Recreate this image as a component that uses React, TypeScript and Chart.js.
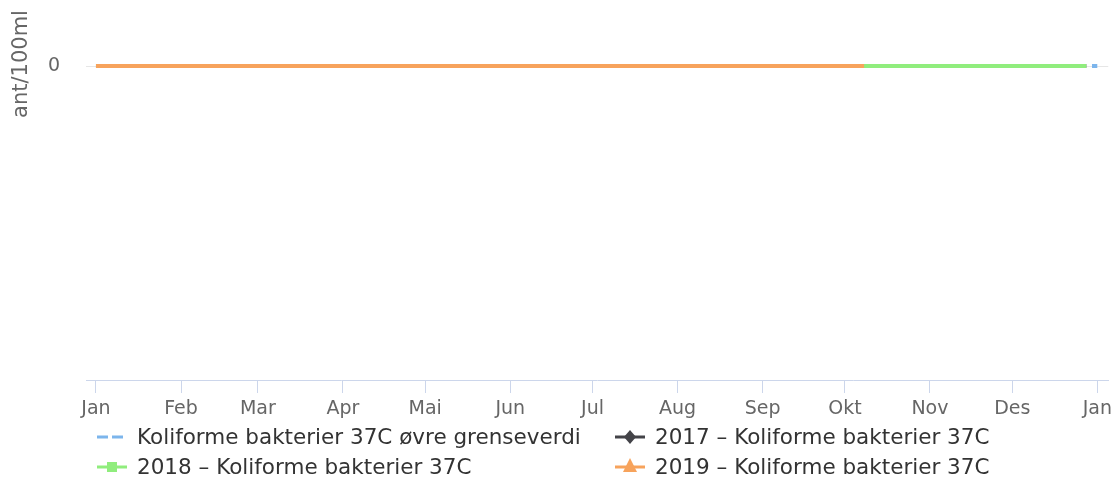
import React, { useEffect, useRef } from 'react';
import { Chart, registerables } from 'chart.js';

Chart.register(...registerables);

// ---- data ----
const monthTickDays = [0, 31, 59, 90, 120, 151, 181, 212, 243, 273, 304, 334, 365];
const monthLabels = ['Jan', 'Feb', 'Mar', 'Apr', 'Mai', 'Jun', 'Jul', 'Aug', 'Sep', 'Okt', 'Nov', 'Des', 'Jan'];
const yTickValues = [0];
const yTitle = 'ant/100ml';

const seriesNames = [
  'Koliforme bakterier 37C øvre grenseverdi',
  '2017 – Koliforme bakterier 37C',
  '2018 – Koliforme bakterier 37C',
  '2019 – Koliforme bakterier 37C',
];
const seriesColors = ['#7cb5ec', '#434348', '#90ed7d', '#f7a35c'];
const seriesSymbols = ['dash', 'diamond', 'square', 'triangle'];

const limitDays = [0, 365];
const limitValues = [0, 0];
const y2017Days = [0, 361];
const y2017Values = [0, 0];
const y2018Days = [0, 361];
const y2018Values = [0, 0];
const y2019Days = [0, 280];
const y2019Values = [0, 0];

const FONT = '"DejaVu Sans", sans-serif';

const toPoints = (xs: number[], ys: number[]) => xs.map((x, i) => ({ x, y: ys[i] }));

const customPlugin = {
  id: 'customDecor',
  afterDraw(chart: any) {
    const ctx = chart.ctx as CanvasRenderingContext2D;
    // y-axis title
    ctx.save();
    ctx.translate(27, 64);
    ctx.rotate(-Math.PI / 2);
    ctx.font = `21px ${FONT}`;
    ctx.fillStyle = '#666666';
    ctx.textAlign = 'center';
    ctx.textBaseline = 'alphabetic';
    ctx.fillText(yTitle, 0, 0);
    ctx.restore();

    // legend
    const slots = [
      { x: 97, y: 437 },
      { x: 615, y: 437 },
      { x: 97, y: 467 },
      { x: 615, y: 467 },
    ];
    seriesNames.forEach((name, i) => {
      const { x, y } = slots[i];
      const color = seriesColors[i];
      ctx.save();
      ctx.strokeStyle = color;
      ctx.fillStyle = color;
      ctx.lineWidth = 3;
      if (seriesSymbols[i] === 'dash') {
        ctx.setLineDash([11, 4]);
      }
      ctx.beginPath();
      ctx.moveTo(x, y);
      ctx.lineTo(x + 30, y);
      ctx.stroke();
      ctx.setLineDash([]);
      const cx = x + 15;
      if (seriesSymbols[i] === 'diamond') {
        ctx.beginPath();
        ctx.moveTo(cx, y - 7);
        ctx.lineTo(cx + 6, y);
        ctx.lineTo(cx, y + 7);
        ctx.lineTo(cx - 6, y);
        ctx.closePath();
        ctx.fill();
      } else if (seriesSymbols[i] === 'square') {
        ctx.fillRect(cx - 5, y - 5, 10, 10);
      } else if (seriesSymbols[i] === 'triangle') {
        ctx.beginPath();
        ctx.moveTo(cx, y - 9);
        ctx.lineTo(cx + 7, y + 5);
        ctx.lineTo(cx - 7, y + 5);
        ctx.closePath();
        ctx.fill();
      }
      ctx.font = `21.5px ${FONT}`;
      ctx.fillStyle = '#333333';
      ctx.textAlign = 'left';
      ctx.textBaseline = 'middle';
      ctx.fillText(name, x + 40, y + 1);
      ctx.restore();
    });
  },
};

export default function App() {
  const canvasRef = useRef<HTMLCanvasElement | null>(null);

  useEffect(() => {
    document.body.style.margin = '0';
    const canvas = canvasRef.current;
    if (!canvas) return;

    const datasets = [
      { days: limitDays, values: limitValues },
      { days: y2017Days, values: y2017Values },
      { days: y2018Days, values: y2018Values },
      { days: y2019Days, values: y2019Values },
    ].map((s, i) => ({
      label: seriesNames[i],
      data: toPoints(s.days, s.values),
      borderColor: seriesColors[i],
      backgroundColor: seriesColors[i],
      borderWidth: 4,
      borderDash: i === 0 ? [16, 12] : [],
      borderDashOffset: i === 0 ? 12 : 0,
      pointRadius: 0,
      pointHoverRadius: 0,
      fill: false,
      tension: 0,
      clip: false as any,
      order: 4 - i,
    }));

    const chart = new Chart(canvas, {
      type: 'line',
      data: { datasets },
      plugins: [customPlugin],
      options: {
        responsive: false,
        animation: false,
        events: [],
        layout: { padding: { top: 66, right: 7, left: 0, bottom: 0 } },
        plugins: {
          legend: { display: false },
          tooltip: { enabled: false },
          title: { display: false },
        },
        scales: {
          x: {
            type: 'linear',
            min: -3.64,
            max: 369.0,
            afterBuildTicks: (scale: any) => {
              scale.ticks = monthTickDays.map((v) => ({ value: v }));
            },
            afterFit: (scale: any) => {
              scale.height = 101;
            },
            ticks: {
              autoSkip: false,
              maxRotation: 0,
              color: '#666666',
              font: { family: FONT, size: 19 },
              padding: 5,
              callback: (value: any) => {
                const idx = monthTickDays.indexOf(Number(value));
                return idx >= 0 ? monthLabels[idx] : '';
              },
            },
            grid: {
              drawOnChartArea: false,
              drawTicks: true,
              tickLength: 13,
              color: '#ccd6eb',
              lineWidth: 1,
            },
            border: { display: true, color: '#ccd6eb', width: 1 },
          },
          y: {
            type: 'linear',
            min: -1,
            max: 0,
            afterBuildTicks: (scale: any) => {
              scale.ticks = yTickValues.map((v) => ({ value: v }));
            },
            afterFit: (scale: any) => {
              scale.width = 86;
            },
            ticks: {
              color: '#666666',
              font: { family: FONT, size: 19 },
              padding: 26,
              callback: (value: any) => String(value),
            },
            grid: {
              drawTicks: false,
              color: '#e6e6e6',
              lineWidth: 1,
            },
            border: { display: false },
          },
        },
      },
    } as any);

    return () => {
      chart.destroy();
    };
  }, []);

  return (
    <div style={{ width: 1117, height: 481 }}>
      <canvas ref={canvasRef} width={1117} height={481} style={{ display: 'block', width: 1117, height: 481 }} />
    </div>
  );
}
